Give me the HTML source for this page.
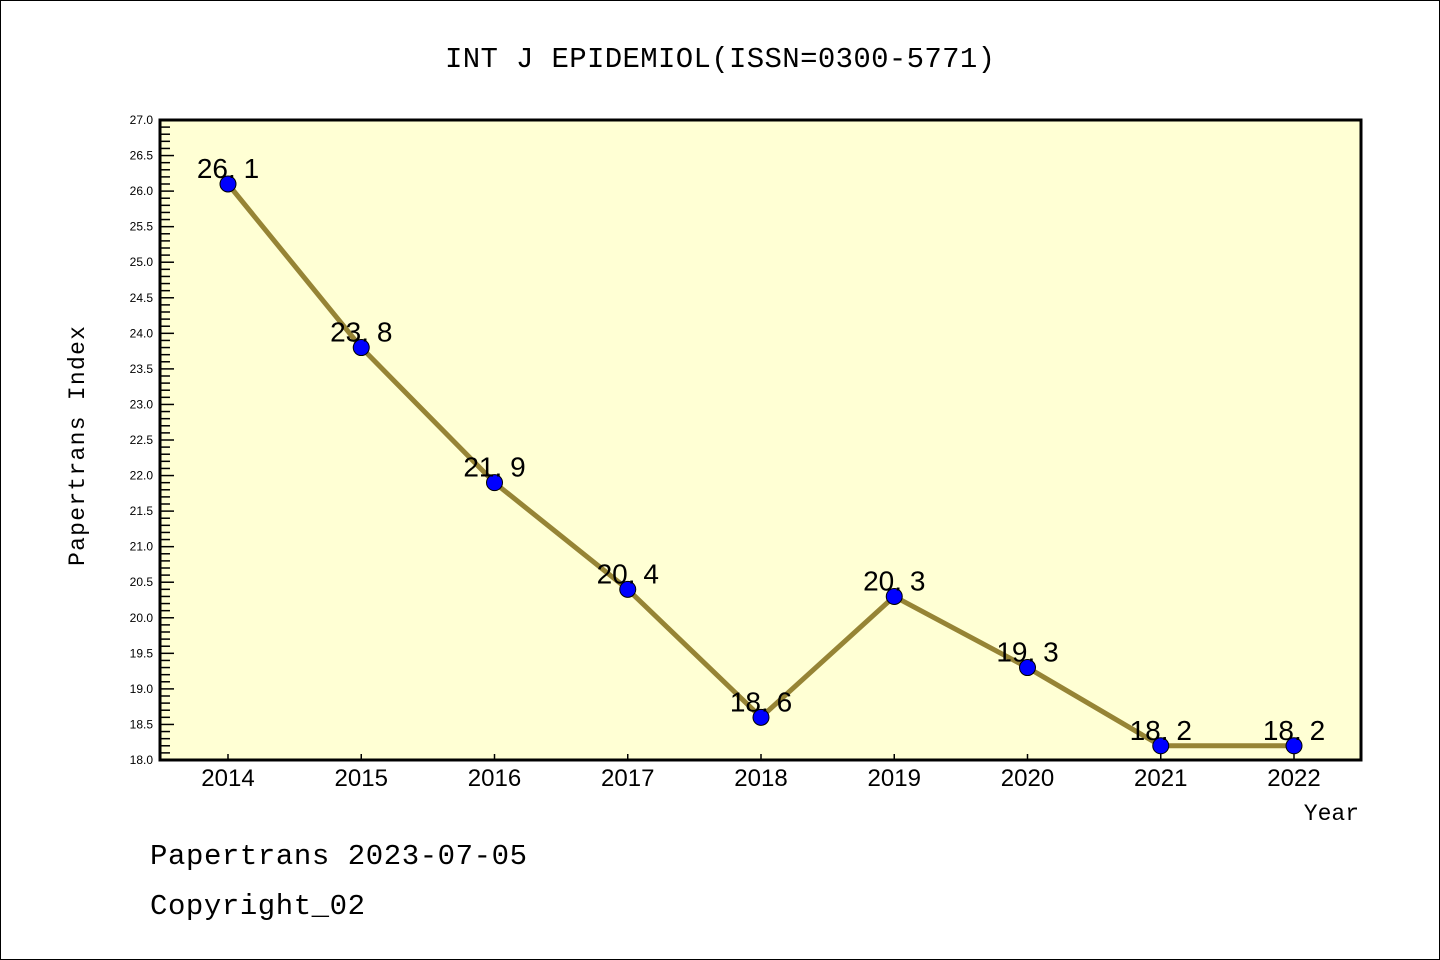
<!DOCTYPE html>
<html><head><meta charset="utf-8"><style>
body{margin:0;background:#fff}
svg{display:block}
text{font-family:"Liberation Sans","DejaVu Sans",sans-serif}
.m{font-family:"Liberation Mono","DejaVu Sans Mono",monospace}
</style></head><body>
<svg id="s" width="1440" height="960" xmlns="http://www.w3.org/2000/svg">
<rect x="0.5" y="0.5" width="1439" height="959" fill="#fff" stroke="#000"/>
<text x="720" y="67" font-size="29" text-anchor="middle" class="m" textLength="550">INT J EPIDEMIOL(ISSN=0300-5771)</text>
<rect x="160" y="120" width="1201" height="640" fill="#ffffd4"/>
<g id="ticks" stroke="#000" stroke-width="1.5"></g>
<g id="lab" font-size="12" text-anchor="end"></g>
<polyline id="ln" fill="none" stroke="#968435" stroke-width="5" stroke-linejoin="round"/>
<g id="pts"></g>
<rect x="160" y="120" width="1201" height="640" fill="none" stroke="#000" stroke-width="3"/>
<text transform="translate(84,446) rotate(-90)" font-size="23" text-anchor="middle" class="m" textLength="240">Papertrans Index</text>
<text x="1359" y="820" font-size="23" text-anchor="end" class="m">Year</text>
<text x="150" y="864" font-size="29" class="m" textLength="377">Papertrans 2023-07-05</text>
<text x="150" y="914" font-size="29" class="m" textLength="215">Copyright_02</text>
</svg>
<script>
var ns="http://www.w3.org/2000/svg",t=document.getElementById('ticks'),lab=document.getElementById('lab');
function el(p,n,a,txt){var e=document.createElementNS(ns,n);for(var k in a)e.setAttribute(k,a[k]);if(txt!=null)e.textContent=txt;p.appendChild(e);return e;}
function Y(v){return 760-(v-18)*640/9;}
for(var i=0;i<=90;i++){var v=18+i*0.1,y=Y(v),maj=i%5==0;
el(t,'line',{x1:160,x2:maj?174:170,y1:y,y2:y});
if(maj)el(lab,'text',{x:153,y:y+4},v.toFixed(1));}
var d=[26.1,23.8,21.9,20.4,18.6,20.3,19.3,18.2,18.2],pts=[],g=document.getElementById('pts');
for(var j=0;j<9;j++){var x=228+j*133.25;
el(t,'line',{x1:x,x2:x,y1:760,y2:754});
el(g.parentNode,'text',{x:x,y:786,'font-size':24,'text-anchor':'middle'},String(2014+j));
pts.push(x+','+Y(d[j]));}
document.getElementById('ln').setAttribute('points',pts.join(' '));
for(var j=0;j<9;j++){var x=228+j*133.25,y=Y(d[j]);
el(g,'circle',{cx:x,cy:y,r:8,fill:'#0000ff',stroke:'#000','stroke-width':1});
el(g,'text',{x:x,y:y-6,'font-size':28,'text-anchor':'middle'},d[j].toFixed(1).replace('.','. '));}
</script>
</body></html>
